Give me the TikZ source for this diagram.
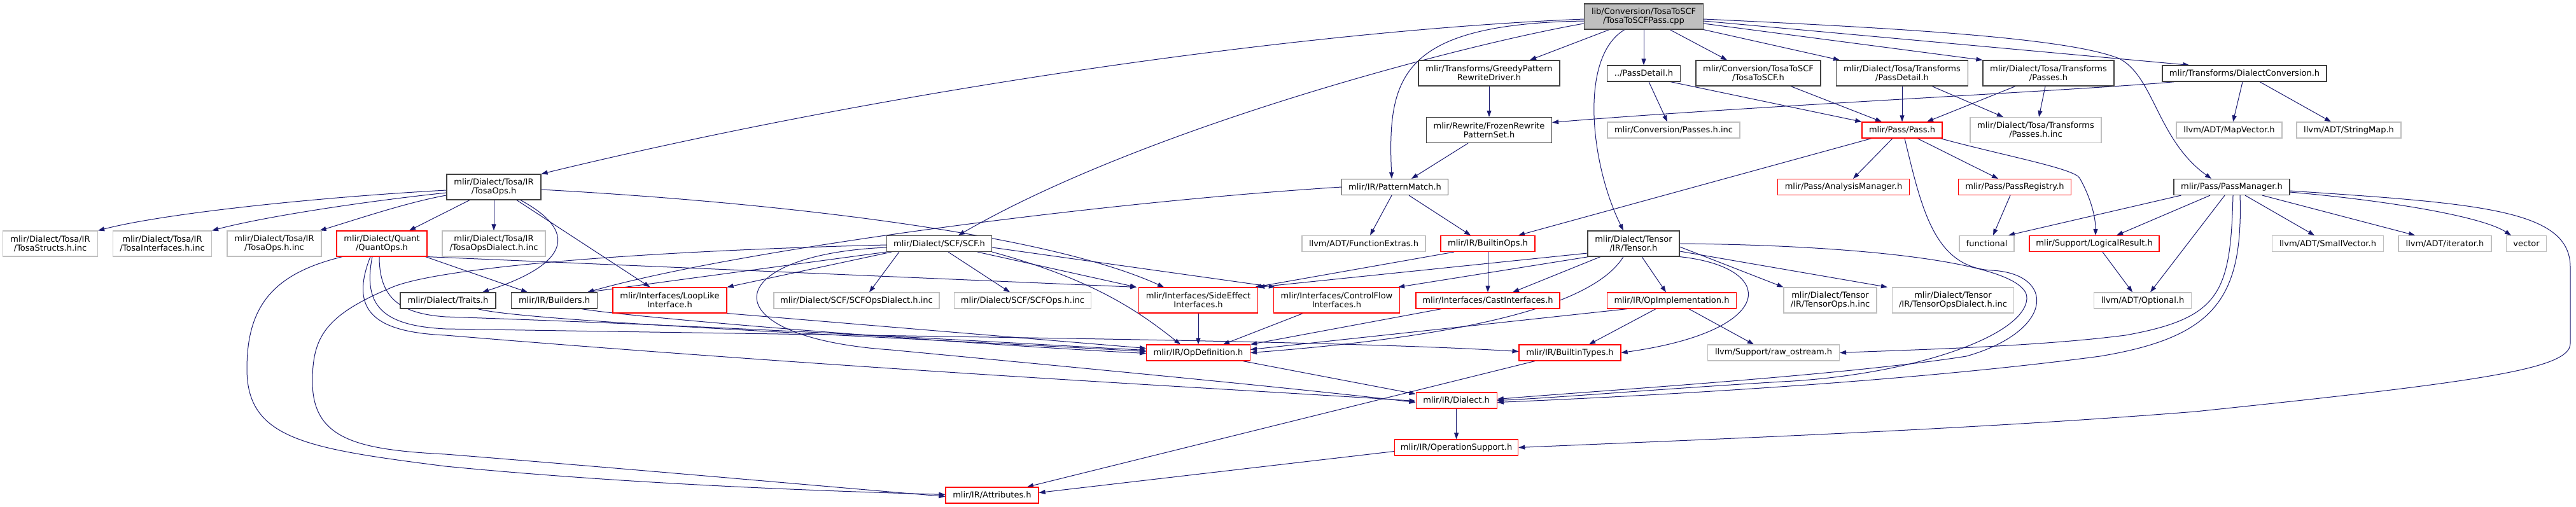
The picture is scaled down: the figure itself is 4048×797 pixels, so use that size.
\documentclass[tikz,border=0pt]{standalone}
\usepackage{fontspec}
\setmainfont{DejaVu Sans}
\usetikzlibrary{arrows.meta,backgrounds}
\definecolor{edgeblue}{HTML}{191970}
\definecolor{boxdark}{HTML}{404040}
\definecolor{boxlight}{HTML}{BFBFBF}
\tikzset{
  hdr/.style={rectangle, draw=boxdark, line width=1.2pt, fill=white, inner sep=0pt, align=center, font=\fontsize{13pt}{14.3pt}\selectfont, minimum height=25pt},
  hdrtall/.style={hdr, minimum height=40pt},
  trunc/.style={draw=red},
  ext/.style={draw=boxlight},
  srcfile/.style={fill=boxlight},
  inc/.style={draw=edgeblue, line width=1pt, -{Triangle[length=10pt,width=7pt]}}
}

\begin{document}
\begin{tikzpicture}[x=1pt,y=-1pt]
  \useasboundingbox (0,0) rectangle (4048,797);
  % top rows
  \node[hdrtall, srcfile, minimum width=187pt] (main) at (2583,26) {lib/Conversion/TosaToSCF\\/TosaToSCFPass.cpp};
  \node[hdrtall, minimum width=222pt] (greedy) at (2340,115) {mlir/Transforms/GreedyPattern\\RewriteDriver.h};
  \node[hdr, minimum width=115pt] (passdetail) at (2583,115.5) {../PassDetail.h};
  \node[hdrtall, minimum width=196pt] (tosatoscf) at (2763,115) {mlir/Conversion/TosaToSCF\\/TosaToSCF.h};
  \node[hdrtall, minimum width=207pt] (tpassdetail) at (2989,115) {mlir/Dialect/Tosa/Transforms\\/PassDetail.h};
  \node[hdrtall, minimum width=206pt] (tpasses) at (3219,115) {mlir/Dialect/Tosa/Transforms\\/Passes.h};
  \node[hdr, minimum width=258pt] (dialconv) at (3527,115.5) {mlir/Transforms/DialectConversion.h};
  \node[hdrtall, minimum width=197pt] (frozen) at (2340,204.5) {mlir/Rewrite/FrozenRewrite\\PatternSet.h};
  \node[hdr, ext, minimum width=208pt] (convpassesinc) at (2630,204.5) {mlir/Conversion/Passes.h.inc};
  \node[hdr, trunc, minimum width=126pt] (pass) at (2989,204.5) {mlir/Pass/Pass.h};
  \node[hdrtall, ext, minimum width=206pt] (tpassesinc) at (3199,204.5) {mlir/Dialect/Tosa/Transforms\\/Passes.h.inc};
  \node[hdr, ext, minimum width=166pt] (mapvector) at (3503,204.5) {llvm/ADT/MapVector.h};
  \node[hdr, ext, minimum width=164pt] (stringmap) at (3691,204.5) {llvm/ADT/StringMap.h};
  \node[hdrtall, minimum width=148pt] (tosaops) at (776,294) {mlir/Dialect/Tosa/IR\\/TosaOps.h};
  \node[hdr, minimum width=167pt] (patmatch) at (2192,294) {mlir/IR/PatternMatch.h};
  \node[hdr, trunc, minimum width=207pt] (analysis) at (2897,294) {mlir/Pass/AnalysisManager.h};
  \node[hdr, trunc, minimum width=177pt] (passreg) at (3166,294) {mlir/Pass/PassRegistry.h};
  \node[hdr, minimum width=182pt] (passmgr) at (3507,294) {mlir/Pass/PassManager.h};
  % middle row
  \node[hdrtall, ext, minimum width=149pt] (structsinc) at (79,383) {mlir/Dialect/Tosa/IR\\/TosaStructs.h.inc};
  \node[hdrtall, ext, minimum width=155pt] (ifaceinc) at (255,383) {mlir/Dialect/Tosa/IR\\/TosaInterfaces.h.inc};
  \node[hdrtall, ext, minimum width=148pt] (opsinc) at (431,383) {mlir/Dialect/Tosa/IR\\/TosaOps.h.inc};
  \node[hdrtall, trunc, minimum width=142pt] (quant) at (600,383) {mlir/Dialect/Quant\\/QuantOps.h};
  \node[hdrtall, ext, minimum width=162pt] (dialectinc) at (776,383) {mlir/Dialect/Tosa/IR\\/TosaOpsDialect.h.inc};
  \node[hdr, minimum width=165pt] (scf) at (1476,383) {mlir/Dialect/SCF/SCF.h};
  \node[hdr, ext, minimum width=194pt] (funcextras) at (2143,383) {llvm/ADT/FunctionExtras.h};
  \node[hdr, trunc, minimum width=148pt] (builtinops) at (2338,383) {mlir/IR/BuiltinOps.h};
  \node[hdrtall, minimum width=144pt] (tensor) at (2567,383) {mlir/Dialect/Tensor\\/IR/Tensor.h};
  \node[hdr, ext, minimum width=86pt] (functional) at (3122,383) {functional};
  \node[hdr, trunc, minimum width=204pt] (logicalres) at (3291,383) {mlir/Support/LogicalResult.h};
  \node[hdr, ext, minimum width=175pt] (smallvec) at (3658,383) {llvm/ADT/SmallVector.h};
  \node[hdr, ext, minimum width=146pt] (iterator) at (3842,383) {llvm/ADT/iterator.h};
  \node[hdr, ext, minimum width=63pt] (vector) at (3970,383) {vector};
  \node[hdr, minimum width=150pt] (traits) at (704,472.5) {mlir/Dialect/Traits.h};
  \node[hdr, minimum width=135pt] (builders) at (871,472.5) {mlir/IR/Builders.h};
  \node[hdrtall, trunc, minimum width=179pt] (looplike) at (1052.5,472) {mlir/Interfaces/LoopLike\\Interface.h};
  \node[hdr, ext, minimum width=260pt] (scfopsdialinc) at (1346,472.5) {mlir/Dialect/SCF/SCFOpsDialect.h.inc};
  \node[hdr, ext, minimum width=215pt] (scfopsinc) at (1607,472.5) {mlir/Dialect/SCF/SCFOps.h.inc};
  \node[hdrtall, trunc, minimum width=187pt] (sideeffect) at (1883,472) {mlir/Interfaces/SideEffect\\Interfaces.h};
  \node[hdrtall, trunc, minimum width=198pt] (controlflow) at (2100.5,472) {mlir/Interfaces/ControlFlow\\Interfaces.h};
  \node[hdr, trunc, minimum width=226pt] (castif) at (2338,472.5) {mlir/Interfaces/CastInterfaces.h};
  \node[hdr, trunc, minimum width=203pt] (opimpl) at (2627,472.5) {mlir/IR/OpImplementation.h};
  \node[hdrtall, ext, minimum width=146pt] (tensoropsinc) at (2876,472) {mlir/Dialect/Tensor\\/IR/TensorOps.h.inc};
  \node[hdrtall, ext, minimum width=191pt] (tensordialinc) at (3069,472) {mlir/Dialect/Tensor\\/IR/TensorOpsDialect.h.inc};
  \node[hdr, ext, minimum width=153pt] (optional) at (3367,472.5) {llvm/ADT/Optional.h};
  % bottom rows
  \node[hdr, trunc, minimum width=163pt] (opdef) at (1883,554.5) {mlir/IR/OpDefinition.h};
  \node[hdr, trunc, minimum width=160pt] (builtintypes) at (2467,554.5) {mlir/IR/BuiltinTypes.h};
  \node[hdr, ext, minimum width=207pt] (rawostream) at (2787,554.5) {llvm/Support/raw\_ostream.h};
  \node[hdr, trunc, minimum width=127pt] (dialect) at (2288.6,629.5) {mlir/IR/Dialect.h};
  \node[hdr, trunc, minimum width=194pt] (opsupport) at (2288.6,703.5) {mlir/IR/OperationSupport.h};
  \node[hdr, trunc, minimum width=146pt] (attributes) at (1559,778.5) {mlir/IR/Attributes.h};

  \begin{scope}[on background layer]
  \fill[white] (0,0) rectangle (4048,797);
  % includes of the pass source
  \draw[inc] ([yshift=-4pt]main.west) .. controls (2050,48) and (1400,140) .. (tosaops.north east);
  \draw[inc] ([yshift=-11pt]main.west) .. controls (2300,70) and (1800,200) .. ([xshift=30pt]scf.north);
  \draw[inc] ([yshift=-7pt]main.west) .. controls (2200,38) and (2180,120) .. ([xshift=-5pt]patmatch.north);
  \draw[inc] ([xshift=-54pt]main.south) -- ([xshift=64pt]greedy.north);
  \draw[inc] (main) -- (passdetail);
  \draw[inc] ([xshift=-30pt]main.south) .. controls (2480,90) and (2500,260) .. ([xshift=-16pt]tensor.north);
  \draw[inc] ([xshift=41pt]main.south) -- ([xshift=-49pt]tosatoscf.north);
  \draw[inc] (main.south east) -- ([xshift=6pt]tpassdetail.north west);
  \draw[inc] ([yshift=-11pt]main.east) -- (tpasses.north west);
  \draw[inc] ([yshift=-7pt]main.east) -- ([xshift=43pt]dialconv.north west);
  \draw[inc] ([yshift=-4pt]main.east) .. controls (3000,45) and (3250,60) .. (3330,92) .. controls (3385,120) and (3390,220) .. ([xshift=-32pt]passmgr.north);
  % TosaOps.h
  \draw[inc] ([yshift=-5pt]tosaops.west) .. controls (500,310) and (260,335) .. (structsinc.north east);
  \draw[inc] ([yshift=-9pt]tosaops.west) .. controls (560,318) and (410,342) .. (ifaceinc.north east);
  \draw[inc] ([yshift=-13pt]tosaops.west) .. controls (640,318) and (560,345) .. ([xshift=-3pt]opsinc.north east);
  \draw[inc] ([xshift=-38pt]tosaops.south) -- ([xshift=43pt]quant.north);
  \draw[inc] (tosaops) -- (dialectinc);
  \draw[inc] ([xshift=42pt]tosaops.south) .. controls (920,370) and (880,420) .. ([xshift=54pt]traits.north);
  \draw[inc] ([xshift=36pt]tosaops.south) -- ([xshift=-31pt]looplike.north);
  \draw[inc] ([yshift=-4pt]tosaops.east) .. controls (1250,320) and (1650,370) .. ([xshift=-54pt]sideeffect.north);
  % QuantOps.h
  \draw[inc] ([xshift=-3pt]quant.south east) -- ([xshift=-42pt]builders.north);
  \draw[inc] (quant.south east) -- ([xshift=-3pt]sideeffect.north west);
  \draw[inc] ([xshift=-62pt]quant.south) .. controls (430,430) and (388,480) .. (388,580) .. controls (388,690) and (480,705) .. (700,733) .. controls (1000,762) and (1300,772) .. ([yshift=1pt]attributes.west);
  \draw[inc] ([xshift=-4pt]quant.south) .. controls (596,470) and (630,493) .. (700,498) .. controls (1200,515) and (1600,540) .. ([yshift=4pt]opdef.west);
  \draw[inc] ([xshift=-15pt]quant.south) .. controls (570,480) and (600,512) .. (700,517) .. controls (1500,530) and (2100,535) .. ([yshift=2pt]builtintypes.west);
  \draw[inc] ([xshift=-18pt]quant.south) .. controls (548,490) and (590,522) .. (700,527) .. controls (1400,585) and (2000,615) .. ([yshift=-1pt]dialect.west);
  % SCF.h
  \draw[inc] (scf.south west) -- ([xshift=52pt]builders.north);
  \draw[inc] ([xshift=8pt]scf.south west) -- (looplike.north east);
  \draw[inc] ([xshift=20pt]scf.south west) -- ([xshift=20pt]scfopsdialinc.north);
  \draw[inc] ([xshift=14pt]scf.south) -- ([xshift=-20pt]scfopsinc.north);
  \draw[inc] ([xshift=60pt]scf.south) -- ([xshift=-3pt]sideeffect.north west);
  \draw[inc] (scf.south east) .. controls (1720,440) and (1790,490) .. ([xshift=-28pt]opdef.north);
  \draw[inc] ([yshift=-6pt]scf.east) -- ([xshift=3pt]controlflow.north west);
  \draw[inc] ([yshift=-6pt]scf.west) .. controls (1130,400) and (1110,530) .. (1400,550) .. controls (1800,588) and (2050,612) .. ([yshift=-3pt]dialect.west);
  \draw[inc] ([yshift=-2pt]scf.west) .. controls (1000,395) and (700,420) .. (620,450) .. controls (510,495) and (491,530) .. (491,600) .. controls (491,690) and (560,707) .. (700,714) .. controls (1000,738) and (1300,765) .. ([yshift=-2pt]attributes.west);
  % pattern rewriting
  \draw[inc] (patmatch.west) .. controls (1700,320) and (1150,395) .. ([xshift=52pt]builders.north);
  \draw[inc] ([xshift=-5pt]patmatch.south) -- ([xshift=10pt]funcextras.north);
  \draw[inc] ([xshift=22pt]patmatch.south) -- ([xshift=-27pt]builtinops.north);
  \draw[inc] (greedy) -- (frozen);
  \draw[inc] ([xshift=-33pt]frozen.south) -- ([xshift=26pt]patmatch.north);
  \draw[inc] ([xshift=20pt]dialconv.south west) .. controls (3300,140) and (2700,170) .. ([yshift=12pt]frozen.east);
  \draw[inc] ([xshift=-3pt]dialconv.south) -- ([xshift=6pt]mapvector.north);
  \draw[inc] ([xshift=24pt]dialconv.south) -- ([xshift=-28pt]stringmap.north);
  % passes
  \draw[inc] ([xshift=8pt]passdetail.south) -- ([xshift=-10pt]convpassesinc.north);
  \draw[inc] ([xshift=42pt]passdetail.south) -- (pass.north west);
  \draw[inc] ([xshift=51pt]tosatoscf.south) -- ([xshift=-32pt]pass.north);
  \draw[inc] (tpassdetail) -- (pass);
  \draw[inc] ([xshift=47pt]tpassdetail.south) -- ([xshift=-51pt]tpassesinc.north);
  \draw[inc] ([xshift=-52pt]tpasses.south) -- ([xshift=39pt]pass.north);
  \draw[inc] ([xshift=-5pt]tpasses.south) -- ([xshift=5pt]tpassesinc.north);
  \draw[inc] ([xshift=-48pt]pass.south) -- ([xshift=48pt]builtinops.north);
  \draw[inc] ([xshift=-15pt]pass.south) -- ([xshift=15pt]analysis.north);
  \draw[inc] ([xshift=24pt]pass.south) -- ([xshift=-26pt]passreg.north);
  \draw[inc] ([xshift=60pt]pass.south) .. controls (3150,245) and (3260,265) .. (3268,280) .. controls (3285,310) and (3293,340) .. ([xshift=2pt]logicalres.north);
  \draw[inc] ([xshift=4pt]pass.south) .. controls (3020,330) and (3040,420) .. (3130,425) .. controls (3230,430) and (3230,520) .. (3090,560) .. controls (2900,590) and (2500,615) .. ([yshift=2pt]dialect.east);
  \draw[inc] ([xshift=-7pt]passreg.south) -- ([xshift=10pt]functional.north);
  % Tensor.h
  \draw[inc] ([xshift=2pt]tensor.south west) -- ([xshift=-3pt]controlflow.north east);
  \draw[inc] ([yshift=-15pt]tensor.west) -- (sideeffect.north east);
  \draw[inc] ([xshift=-52pt]tensor.south) -- ([xshift=39pt]castif.north);
  \draw[inc] ([xshift=-16pt]tensor.south) .. controls (2510,470) and (2350,525) .. (opdef.east);
  \draw[inc] ([xshift=13pt]tensor.south) -- ([xshift=-9pt]opimpl.north);
  \draw[inc] (tensor.south east) .. controls (2795,420) and (2795,520) .. (builtintypes.east);
  \draw[inc] ([yshift=-5pt]tensor.east) -- (tensoropsinc.north west);
  \draw[inc] ([yshift=-12pt]tensor.east) -- ([xshift=-7pt]tensordialinc.north west);
  \draw[inc] (tensor.east) .. controls (2900,385) and (3190,410) .. (3185,470) .. controls (3180,530) and (3000,590) .. (2800,600) .. controls (2600,612) and (2450,625) .. (dialect.east);
  % IR headers
  \draw[inc] ([xshift=-70pt]opimpl.south) -- ([yshift=5pt]opdef.east);
  \draw[inc] ([xshift=-25pt]opimpl.south) -- ([xshift=30pt]builtintypes.north);
  \draw[inc] ([xshift=27pt]opimpl.south) -- ([xshift=-31pt]rawostream.north);
  \draw[inc] ([xshift=-73pt]castif.south) -- (opdef.north east);
  \draw[inc] (builtinops) -- (castif);
  \draw[inc] ([xshift=-53pt]builtinops.south) -- ([xshift=-5pt]sideeffect.north east);
  \draw[inc] (sideeffect) -- (opdef);
  \draw[inc] ([xshift=-53pt]controlflow.south) -- ([xshift=39pt]opdef.north);
  \draw[inc] (looplike.south east) -- ([yshift=7pt]opdef.west);
  \draw[inc] ([xshift=47pt]traits.south) .. controls (820,505) and (1400,530) .. ([yshift=2pt]opdef.west);
  \draw[inc] ([xshift=43pt]builders.south) .. controls (1000,500) and (1500,540) .. ([yshift=-1pt]opdef.west);
  \draw[inc] ([xshift=-12pt]opdef.south east) -- ([yshift=-3pt]dialect.north west);
  \draw[inc] ([xshift=-55pt]builtintypes.south) -- ([xshift=55pt]attributes.north);
  \draw[inc] (dialect) -- (opsupport);
  \draw[inc] ([yshift=-6pt]opsupport.west) -- ([yshift=4pt]attributes.east);
  % PassManager.h
  \draw[inc] ([xshift=12pt]passmgr.south west) -- ([xshift=34pt]functional.north);
  \draw[inc] ([xshift=-34pt]passmgr.south) -- ([xshift=35pt]logicalres.north);
  \draw[inc] ([xshift=-11pt]passmgr.south) -- ([xshift=12pt]optional.north);
  \draw[inc] ([xshift=2pt]passmgr.south) .. controls (3505,460) and (3490,500) .. (3340,527) .. controls (3200,545) and (3000,550) .. (rawostream.east);
  \draw[inc] ([xshift=13pt]passmgr.south) .. controls (3525,470) and (3480,530) .. (3300,560) .. controls (3000,600) and (2600,622) .. ([yshift=-3pt]dialect.east);
  \draw[inc] ([xshift=21pt]passmgr.south) -- ([xshift=-21pt]smallvec.north);
  \draw[inc] ([xshift=48pt]passmgr.south) -- ([xshift=-47pt]iterator.north);
  \draw[inc] ([yshift=-8pt]passmgr.east) .. controls (3750,315) and (3900,340) .. ([xshift=-24pt]vector.north);
  \draw[inc] ([yshift=-6pt]passmgr.east) .. controls (3900,320) and (4039,330) .. (4039,420) -- (4039,540) .. controls (4039,580) and (3900,600) .. (3450,647) .. controls (3100,675) and (2700,690) .. (opsupport.east);
  \draw[inc] ([xshift=13pt]logicalres.south) -- ([xshift=-16pt]optional.north);
  \end{scope}
\end{tikzpicture}
\end{document}
